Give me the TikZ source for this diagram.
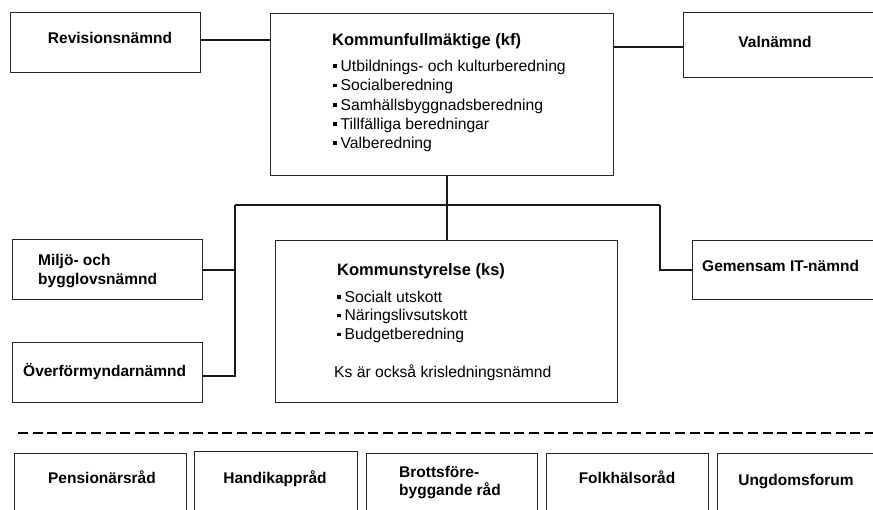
\documentclass[tikz,border=0pt]{standalone}
\usepackage{fontspec}
\setmainfont{Liberation Sans}
\newcommand\bul{\rule[3.2pt]{3.4pt}{3.6pt}\hspace{4pt}}
\begin{document}
\begin{tikzpicture}[x=1pt,y=-1pt,
  box/.style={draw=black!85,line width=1.1pt,rectangle,inner sep=0pt,anchor=north west},
  conn/.style={line width=2pt,draw=black!90},
  lbl/.style={inner sep=0pt,font=\fontsize{15.5}{18}\selectfont\bfseries},
  ttl/.style={inner sep=0pt,anchor=base west,font=\fontsize{16.5}{19}\selectfont\bfseries},
  body/.style={inner sep=0pt,anchor=base west,font=\fontsize{15.7}{18}\selectfont}]
\useasboundingbox (0,0) rectangle (873,509);
\clip (0,0) rectangle (873,509);
% boxes
\node[box,minimum width=190,minimum height=60] (rev) at (10,12) {};
\node[box,minimum width=343,minimum height=162] (kf) at (270,13) {};
\node[box,minimum width=200,minimum height=65] (val) at (683,12) {};
\node[box,minimum width=190,minimum height=60] (mil) at (12,239) {};
\node[box,minimum width=190,minimum height=60] (ovf) at (12,342) {};
\node[box,minimum width=342,minimum height=162] (ks) at (275,240) {};
\node[box,minimum width=190,minimum height=59] (git) at (692,240) {};
\node[box,minimum width=172,minimum height=70] (pen) at (14,453) {};
\node[box,minimum width=163,minimum height=70] (han) at (194,451) {};
\node[box,minimum width=171,minimum height=70] (bro) at (366,453) {};
\node[box,minimum width=162,minimum height=70] (fol) at (546,453) {};
\node[box,minimum width=170,minimum height=70] (ung) at (717,453) {};
% texts
\node[lbl,anchor=base] (trev) at (110,43) {Revisionsnämnd};
\node[ttl] (tkf) at (332,45) {Kommunfullmäktige (kf)};
\node[body] (k1) at (333,71) {\bul Utbildnings- och kulturberedning};
\node[body] (k2) at (333,90.5) {\bul Socialberedning};
\node[body] (k3) at (333,110) {\bul Samhällsbyggnadsberedning};
\node[body] (k4) at (333,129) {\bul Tillfälliga beredningar};
\node[body] (k5) at (333,148) {\bul Valberedning};
\node[lbl,anchor=base] (tval) at (775,47) {Valnämnd};
\node[lbl,anchor=base west] (tmil1) at (38,265) {Miljö- och};
\node[lbl,anchor=base west] (tmil2) at (38,284) {bygglovsnämnd};
\node[lbl,anchor=base west] (tovf) at (23,376) {Överförmyndarnämnd};
\node[ttl] (tks) at (337,275) {Kommunstyrelse (ks)};
\node[body] (s1) at (337,302) {\bul Socialt utskott};
\node[body] (s2) at (337,320.5) {\bul Näringslivsutskott};
\node[body] (s3) at (337,339.5) {\bul Budgetberedning};
\node[body] (s4) at (334,377) {Ks är också krisledningsnämnd};
\node[lbl,anchor=base west] (tgit) at (702,271) {Gemensam IT-nämnd};
\node[lbl,anchor=base] (tpen) at (102,483) {Pensionärsråd};
\node[lbl,anchor=base] (than) at (275,483) {Handikappråd};
\node[lbl,anchor=base west] (tbro1) at (399,477) {Brottsföre-};
\node[lbl,anchor=base west] (tbro2) at (399,495) {byggande råd};
\node[lbl,anchor=base] (tfol) at (627,483) {Folkhälsoråd};
\node[lbl,anchor=base] (tung) at (796,485) {Ungdomsforum};
% connectors
\coordinate (busL) at (235,205);
\coordinate (busR) at (660,205);
\coordinate (dashL) at (18,433);
\coordinate (dashR) at (873,433);
\draw[conn] ([yshift=3]rev.east) -- ([yshift=3]rev.east -| kf.west);
\draw[conn] ([yshift=-1.5]val.west) -- ([yshift=-1.5]val.west -| kf.east);
\draw[conn] (ks.north) -- (ks.north |- kf.south);
\draw[conn] (busL) -- (busR);
\draw[conn] (busR) |- (git.west);
\draw[conn] (busL) |- ([yshift=-3]ovf.east);
\draw[conn] (mil.east) -- (mil.east -| busL);
\draw[line width=2pt,dash pattern=on 10pt off 4.6pt] (dashL) -- (dashR);
\end{tikzpicture}
\end{document}
